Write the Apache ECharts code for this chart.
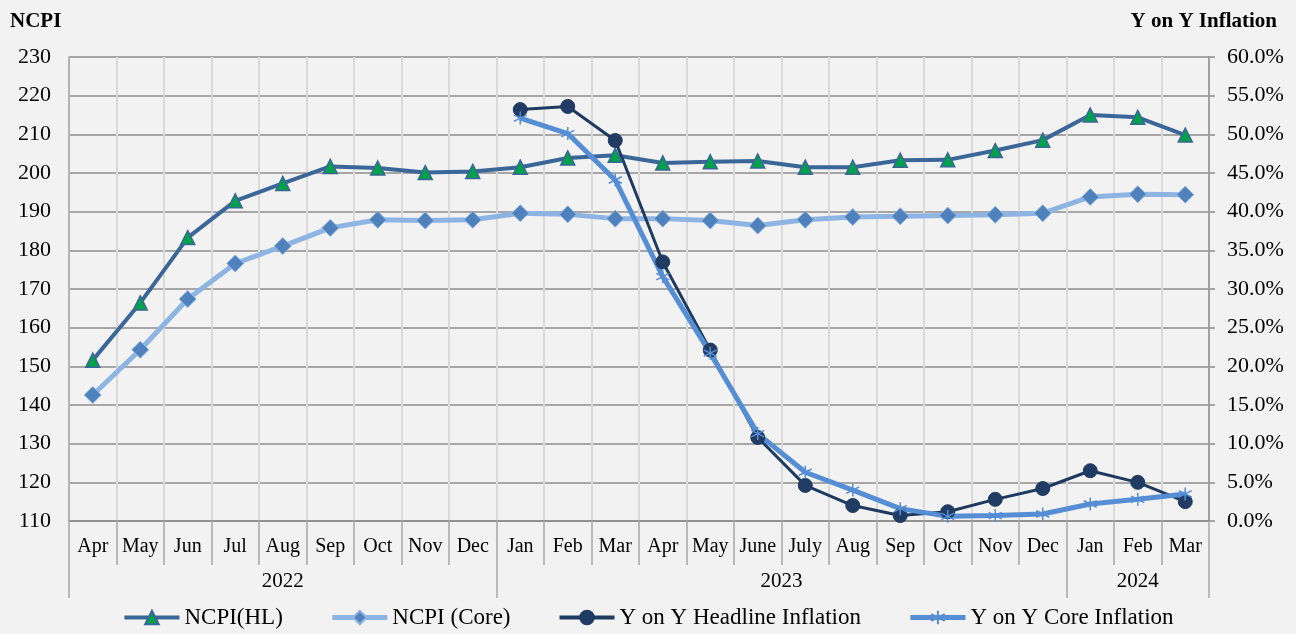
<!DOCTYPE html>
<html><head><meta charset="utf-8">
<script src="https://cdn.jsdelivr.net/npm/echarts@6/dist/echarts.min.js"></script>
<style>html,body{margin:0;padding:0;background:#f2f2f2}#c{width:1296px;height:634px}</style>
</head><body><div id="c"></div>
<script>
const months = ['Apr','May','Jun','Jul','Aug','Sep','Oct','Nov','Dec','Jan','Feb','Mar','Apr','May','June','July','Aug','Sep','Oct','Nov','Dec','Jan','Feb','Mar'];
const years = [{name:'2022', start:0, end:9},{name:'2023', start:9, end:21},{name:'2024', start:21, end:24}];
const ncpiHL = [151.6,166.4,183.3,192.8,197.3,201.7,201.3,200.1,200.4,201.5,203.9,204.6,202.6,202.9,203.1,201.5,201.5,203.3,203.4,205.8,208.5,215.0,214.4,209.8];
const ncpiCore = [142.6,154.3,167.4,176.6,181.1,185.8,187.9,187.7,187.9,189.6,189.3,188.2,188.2,187.7,186.4,187.9,188.6,188.8,189.0,189.2,189.6,193.8,194.5,194.4];
const yoyHeadline = [null,null,null,null,null,null,null,null,null,53.2,53.6,49.2,33.5,22.1,10.8,4.6,2.0,0.7,1.2,2.8,4.2,6.5,5.0,2.5];
const yoyCore = [null,null,null,null,null,null,null,null,null,52.1,50.1,44.1,31.6,21.7,11.3,6.3,4.0,1.6,0.6,0.7,0.9,2.2,2.8,3.5];
const leftTicks = {min:110, max:230, interval:10};
const rightTicks = {min:0, max:60, interval:5};

const FONT = 'Liberation Serif';
const asterisk = 'path://M50,0L50,100M7,25L93,75M7,75L93,25';
const chart = echarts.init(document.getElementById('c'));
const yearBoundaries = [0].concat(years.map(y=>y.end));
const yearCenters = years.map(y=>(y.start+y.end)/2);
const C = {hl:'#3b6698', core:'#8db4e3', head:'#1f3a60', cinf:'#558ed5'};
chart.setOption({
  backgroundColor:'#f2f2f2',
  animation:false,
  textStyle:{fontFamily:FONT},
  title:[
    {text:'NCPI', left:5, top:6, textStyle:{fontFamily:FONT,fontWeight:'bold',fontSize:21,color:'#000'}},
    {text:'Y on Y Inflation', right:14, top:6, textStyle:{fontFamily:FONT,fontWeight:'bold',fontSize:21,color:'#000'}}
  ],
  grid:{left:69, right:87, top:57, bottom:113, containLabel:false},
  legend:{
    top:601, left:'center', itemWidth:55, itemHeight:17, itemGap:47,
    textStyle:{fontFamily:FONT,fontSize:23,color:'#000'},
    data:[
      {name:'NCPI(HL)', lineStyle:{width:4}},
      {name:'NCPI (Core)', lineStyle:{width:5}},
      {name:'Y on Y Headline Inflation', lineStyle:{width:4}},
      {name:'Y on Y Core Inflation', lineStyle:{width:5}}
    ]
  },
  xAxis:[
    {type:'category', data:months, boundaryGap:true, position:'bottom',
     axisLine:{show:true, lineStyle:{color:'#8c8c8c', width:1.5}},
     axisTick:{show:true, length:44, lineStyle:{color:'#a6a6a6', width:1.5}},
     axisLabel:{color:'#000', margin:16, interval:0, hideOverlap:false,
       formatter:'{m|{value}}', rich:{m:{fontFamily:FONT, fontSize:20, color:'#000'}}},
     splitLine:{show:true, lineStyle:{color:'#d9d9d9', width:2}}},
    {type:'value', min:0, max:months.length, position:'bottom',
     axisLine:{show:false},
     axisTick:{show:true, customValues:yearBoundaries, length:77, lineStyle:{color:'#a6a6a6', width:1.5}},
     axisLabel:{show:true, customValues:yearCenters, color:'#000', margin:50,
       formatter:(v)=>{const y=years.find(t=>(t.start+t.end)/2===v); return y?'{y|'+y.name+'}':'';},
       rich:{y:{fontFamily:FONT, fontSize:21, color:'#000'}}},
     splitLine:{show:false}}
  ],
  yAxis:[
    {type:'value', min:leftTicks.min, max:leftTicks.max, interval:leftTicks.interval, position:'left',
     axisLine:{show:true, lineStyle:{color:'#a6a6a6', width:1.5}},
     axisTick:{show:false},
     axisLabel:{fontFamily:FONT, fontSize:22, color:'#000', margin:18},
     splitLine:{show:true, lineStyle:{color:'#8c8c8c', width:1.5}}},
    {type:'value', min:rightTicks.min, max:rightTicks.max, interval:rightTicks.interval, position:'right',
     axisLine:{show:true, lineStyle:{color:'#8c8c8c', width:1.5}},
     axisTick:{show:true, length:6, lineStyle:{color:'#8c8c8c', width:1.5}},
     axisLabel:{fontFamily:FONT, fontSize:22, color:'#000', margin:18, formatter:(v)=>v.toFixed(1)+'%'},
     splitLine:{show:false}}
  ],
  series:[
    {name:'NCPI(HL)', type:'line', data:ncpiHL, yAxisIndex:0, symbol:'triangle', symbolSize:14,
     lineStyle:{color:C.hl, width:4}, itemStyle:{color:'#00a14b', borderColor:C.hl, borderWidth:1.5}},
    {name:'NCPI (Core)', type:'line', data:ncpiCore, yAxisIndex:0, symbol:'diamond', symbolSize:17,
     lineStyle:{color:C.core, width:5}, itemStyle:{color:'#4f81bd', borderColor:C.core, borderWidth:1}},
    {name:'Y on Y Headline Inflation', type:'line', data:yoyHeadline, yAxisIndex:1, symbol:'circle', symbolSize:14,
     lineStyle:{color:C.head, width:3}, itemStyle:{color:'#203c64', borderColor:C.head, borderWidth:1}},
    {name:'Y on Y Core Inflation', type:'line', data:yoyCore, yAxisIndex:1, symbol:asterisk, symbolSize:13,
     lineStyle:{color:C.cinf, width:5}, itemStyle:{color:C.cinf, borderColor:C.cinf, borderWidth:1.5}}
  ]
});
</script></body></html>
